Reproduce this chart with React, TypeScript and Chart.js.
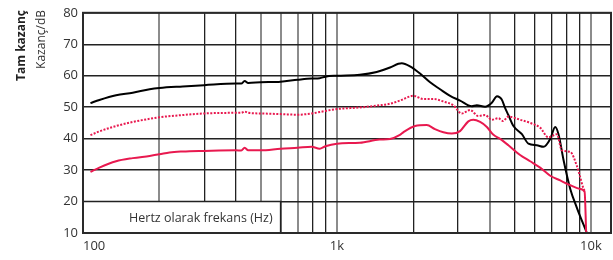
import React, { useEffect, useRef } from "react";
import { Chart, registerables } from "chart.js";

Chart.register(...registerables);

const Y_TITLE_BOLD = "Tam kazanç";
const Y_TITLE = "Kazanç/dB";
const X_TITLE = "Hertz olarak frekans (Hz)";

const FREQ_GRID = [100, 200, 300, 400, 500, 600, 700, 800, 900, 1000, 2000, 3000, 4000, 5000, 6000, 7000, 8000, 9000, 10000];
const GREY_GRID = [200, 500, 600, 700, 1000, 4000, 10000];
const X_LABELS: [number, string][] = [[100, "100"], [1000, "1k"], [10000, "10k"]];
const Y_TICKS = [10, 20, 30, 40, 50, 60, 70, 80];

const blackFreq = [107, 116, 135, 157, 183, 200, 247, 300, 400, 420, 433, 447, 500, 600, 700, 795, 855, 900, 1000, 1230, 1434, 1618, 1745, 1800, 1940, 2124, 2327, 2548, 2790, 3053, 3396, 3553, 3831, 4072, 4270, 4450, 4600, 4732, 4955, 5350, 5678, 6122, 6505, 6917, 7235, 7456, 7799, 8288, 8808, 9640];
const blackGain = [51.3, 52.3, 53.8, 54.6, 55.7, 56.1, 56.6, 57.0, 57.5, 57.5, 58.3, 57.7, 57.9, 58.1, 58.7, 59.1, 59.2, 59.7, 60.0, 60.3, 61.2, 62.6, 63.8, 64.0, 63.0, 60.7, 57.9, 55.7, 53.6, 52.1, 50.3, 50.6, 50.1, 51.4, 53.5, 52.5, 49.6, 47.5, 44.0, 41.4, 38.4, 37.9, 37.4, 39.9, 43.7, 41.4, 33.3, 24.1, 18.0, 10.0];

const dottedFreq = [107, 116, 135, 157, 183, 200, 247, 300, 400, 420, 433, 447, 500, 600, 700, 795, 900, 1000, 1230, 1470, 1618, 1770, 2000, 2188, 2397, 2625, 2874, 3101, 3345, 3603, 3831, 4072, 4326, 4500, 4732, 5263, 5764, 6310, 6805, 7345, 7685, 8288, 8808, 9358, 9500];
const dottedGain = [41.1, 42.3, 44.0, 45.3, 46.3, 46.8, 47.5, 48.0, 48.2, 48.2, 48.6, 48.2, 48.0, 47.8, 47.6, 48.0, 48.8, 49.4, 49.9, 50.6, 51.1, 52.1, 53.6, 52.6, 52.6, 51.8, 50.6, 48.0, 49.1, 47.2, 47.5, 46.0, 46.5, 45.6, 47.0, 46.0, 45.0, 43.5, 40.4, 41.4, 36.3, 35.8, 31.3, 24.1, 23.1];

const redFreq = [107, 116, 135, 157, 183, 200, 219, 247, 300, 400, 420, 433, 447, 500, 600, 700, 795, 855, 900, 1000, 1230, 1470, 1618, 1770, 1824, 2030, 2257, 2432, 2625, 2831, 3053, 3292, 3444, 3663, 3894, 4133, 4390, 4732, 5263, 5764, 6310, 6917, 7570, 8288, 9075, 9445, 9583];
const redGain = [29.4, 30.8, 32.8, 33.8, 34.5, 35.0, 35.6, 35.9, 36.1, 36.3, 36.2, 37.1, 36.3, 36.3, 36.8, 37.1, 37.4, 36.8, 37.6, 38.4, 38.7, 39.7, 39.9, 41.2, 42.0, 44.0, 44.3, 43.0, 42.0, 41.6, 42.4, 45.5, 46.0, 45.3, 43.7, 41.2, 39.9, 37.9, 34.8, 32.8, 30.8, 28.2, 26.7, 25.2, 24.0, 23.1, 10.0];

const PINK = "#e8194f";
const FONT = '"Open Sans", sans-serif';

const toPoints = (xs: number[], ys: number[]) => xs.map((x, i) => ({ x, y: ys[i] }));

const overlay = {
  id: "overlay",
  afterDatasetsDraw(chart: any) {
    const { ctx, chartArea, scales } = chart;
    const { left, right, top, bottom } = chartArea;
    const xs = scales.x;
    const ys = scales.y;
    ctx.save();
    // label box
    const bx = xs.getPixelForValue(600);
    const by = ys.getPixelForValue(20);
    ctx.fillStyle = "#fff";
    ctx.fillRect(left, by, bx - left, bottom - by);
    ctx.strokeStyle = "#222";
    ctx.lineWidth = 1.5;
    ctx.beginPath();
    ctx.moveTo(left, by);
    ctx.lineTo(bx, by);
    ctx.lineTo(bx, bottom);
    ctx.stroke();
    ctx.fillStyle = "#333";
    ctx.font = "12.5px " + FONT;
    ctx.textAlign = "right";
    ctx.textBaseline = "middle";
    ctx.fillText(X_TITLE, bx - 8, (by + bottom) / 2 + 1);
    // frame
    ctx.lineWidth = 2;
    ctx.strokeStyle = "#2a2a2a";
    ctx.strokeRect(left, top, right - left, bottom - top);
    // x labels
    ctx.font = "13px " + FONT;
    ctx.textBaseline = "middle";
    X_LABELS.forEach(([v, t], i) => {
      const px = xs.getPixelForValue(v);
      ctx.textAlign = i === 0 ? "left" : "center";
      ctx.fillText(t, px, bottom + 13);
    });
    // y titles
    ctx.save();
    ctx.translate(22, 10);
    ctx.rotate(-Math.PI / 2);
    ctx.textAlign = "right";
    ctx.textBaseline = "middle";
    ctx.font = "bold 12px " + FONT;
    ctx.fillStyle = "#222";
    ctx.fillText(Y_TITLE_BOLD, 0, 0);
    ctx.restore();
    ctx.save();
    ctx.translate(42, 10);
    ctx.rotate(-Math.PI / 2);
    ctx.textAlign = "right";
    ctx.textBaseline = "middle";
    ctx.font = "12px " + FONT;
    ctx.fillStyle = "#333";
    ctx.fillText(Y_TITLE, 0, 0);
    ctx.restore();
    ctx.restore();
  },
};

export default function App() {
  const ref = useRef<HTMLCanvasElement>(null);
  useEffect(() => {
    if (!ref.current) return;
    const chart = new Chart(ref.current, {
      type: "line",
      data: {
        datasets: [
          {
            data: toPoints(dottedFreq, dottedGain),
            borderColor: PINK,
            borderWidth: 2,
            borderDash: [2, 1.5],
            pointRadius: 0,
            cubicInterpolationMode: "monotone",
          },
          {
            data: toPoints(redFreq, redGain),
            borderColor: PINK,
            borderWidth: 2,
            pointRadius: 0,
            cubicInterpolationMode: "monotone",
          },
          {
            data: toPoints(blackFreq, blackGain),
            borderColor: "#000",
            borderWidth: 2,
            pointRadius: 0,
            cubicInterpolationMode: "monotone",
          },
        ],
      },
      options: {
        animation: false,
        responsive: false,
        layout: { padding: { top: 3, right: 2, left: 0, bottom: 0 } },
        plugins: { legend: { display: false }, tooltip: { enabled: false } },
        scales: {
          x: {
            type: "logarithmic",
            min: 100,
            max: 12000,
            afterBuildTicks: (s: any) => {
              s.ticks = FREQ_GRID.map((v) => ({ value: v }));
            },
            afterFit: (s: any) => {
              s.height = 27;
            },
            ticks: { display: false },
            border: { display: false },
            grid: {
              drawTicks: false,
              color: (c: any) => (GREY_GRID.includes(c.tick?.value) ? "#8c8c8c" : "#222"),
              lineWidth: (c: any) => (GREY_GRID.includes(c.tick?.value) ? 2 : 1.3),
            },
          },
          y: {
            min: 10,
            max: 80,
            afterBuildTicks: (s: any) => {
              s.ticks = Y_TICKS.map((v) => ({ value: v }));
            },
            afterFit: (s: any) => {
              s.width = 83;
            },
            ticks: { color: "#333", font: { size: 13, family: FONT }, padding: 5 },
            border: { display: false },
            grid: { drawTicks: false, color: "#222", lineWidth: 1.4 },
          },
        },
      },
      plugins: [overlay],
    } as any);
    return () => chart.destroy();
  }, []);
  return (
    <div style={{ position: "absolute", left: 0, top: 0, width: 613, height: 260, background: "#fff" }}>
      <canvas ref={ref} width={613} height={260} style={{ width: 613, height: 260 }} />
    </div>
  );
}
